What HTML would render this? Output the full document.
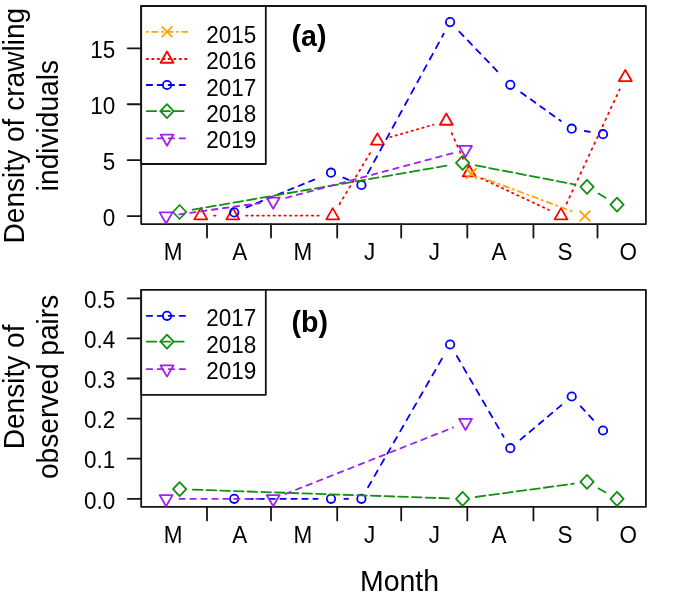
<!DOCTYPE html>
<html><head><meta charset="utf-8"><style>
html,body{margin:0;padding:0;background:#fff;}
svg{display:block;will-change:transform;}
text{font-family:"Liberation Sans",sans-serif;fill:#000;}
</style></head><body>
<svg width="685" height="597" viewBox="0 0 685 597" stroke-linecap="round" stroke-linejoin="round">
<rect width="685" height="597" fill="#fff"/>
<rect x="141.2" y="6" width="504.7" height="218.1" fill="none" stroke="#151515" stroke-width="1.8"/>
<line x1="207" y1="224.1" x2="207" y2="237.6" stroke="#151515" stroke-width="1.8"/>
<line x1="271" y1="224.1" x2="271" y2="237.6" stroke="#151515" stroke-width="1.8"/>
<line x1="337.2" y1="224.1" x2="337.2" y2="237.6" stroke="#151515" stroke-width="1.8"/>
<line x1="401.2" y1="224.1" x2="401.2" y2="237.6" stroke="#151515" stroke-width="1.8"/>
<line x1="467.3" y1="224.1" x2="467.3" y2="237.6" stroke="#151515" stroke-width="1.8"/>
<line x1="533.45" y1="224.1" x2="533.45" y2="237.6" stroke="#151515" stroke-width="1.8"/>
<line x1="597.5" y1="224.1" x2="597.5" y2="237.6" stroke="#151515" stroke-width="1.8"/>
<text transform="translate(173.1 259.9) scale(1 1.025)" font-size="22.5" text-anchor="middle">M</text>
<text transform="translate(239.8 259.9) scale(1 1.025)" font-size="22.5" text-anchor="middle">A</text>
<text transform="translate(302.9 259.9) scale(1 1.025)" font-size="22.5" text-anchor="middle">M</text>
<text transform="translate(369.6 259.9) scale(1 1.025)" font-size="22.5" text-anchor="middle">J</text>
<text transform="translate(434.3 259.9) scale(1 1.025)" font-size="22.5" text-anchor="middle">J</text>
<text transform="translate(499.1 259.9) scale(1 1.025)" font-size="22.5" text-anchor="middle">A</text>
<text transform="translate(565.1 259.9) scale(1 1.025)" font-size="22.5" text-anchor="middle">S</text>
<text transform="translate(628.3 259.9) scale(1 1.025)" font-size="22.5" text-anchor="middle">O</text>
<line x1="127.7" y1="216.1" x2="141.2" y2="216.1" stroke="#151515" stroke-width="1.8"/>
<text transform="translate(115.2 225.85) scale(1 1.025)" font-size="22.5" text-anchor="end">0</text>
<line x1="127.7" y1="160.17" x2="141.2" y2="160.17" stroke="#151515" stroke-width="1.8"/>
<text transform="translate(115.2 169.92) scale(1 1.025)" font-size="22.5" text-anchor="end">5</text>
<line x1="127.7" y1="104.23" x2="141.2" y2="104.23" stroke="#151515" stroke-width="1.8"/>
<text transform="translate(115.2 113.98) scale(1 1.025)" font-size="22.5" text-anchor="end">10</text>
<line x1="127.7" y1="48.3" x2="141.2" y2="48.3" stroke="#151515" stroke-width="1.8"/>
<text transform="translate(115.2 58.05) scale(1 1.025)" font-size="22.5" text-anchor="end">15</text>
<line x1="214.1" y1="215.6" x2="219.5" y2="215.6" stroke="#FF0000" stroke-width="1.8" stroke-dasharray="1.37,4.11"/>
<line x1="246.1" y1="215.6" x2="319.4" y2="215.6" stroke="#FF0000" stroke-width="1.8" stroke-dasharray="1.37,4.11"/>
<line x1="339.52" y1="204.18" x2="370.58" y2="152.22" stroke="#FF0000" stroke-width="1.8" stroke-dasharray="1.61,4.82"/>
<line x1="390.18" y1="137.13" x2="433.52" y2="124.67" stroke="#FF0000" stroke-width="1.8" stroke-dasharray="1.39,4.17"/>
<line x1="451.69" y1="133.16" x2="463.81" y2="160.54" stroke="#FF0000" stroke-width="1.8" stroke-dasharray="1.65,4.95"/>
<line x1="481.25" y1="178.33" x2="548.95" y2="209.97" stroke="#FF0000" stroke-width="1.8" stroke-dasharray="1.42,4.25"/>
<line x1="566.61" y1="203.54" x2="619.69" y2="89.36" stroke="#FF0000" stroke-width="1.8" stroke-dasharray="1.64,4.93"/>
<polygon points="200.8,208.14 207.26,219.33 194.34,219.33" fill="none" stroke="#FF0000" stroke-width="1.8"/>
<polygon points="232.8,208.14 239.26,219.33 226.34,219.33" fill="none" stroke="#FF0000" stroke-width="1.8"/>
<polygon points="332.7,208.14 339.16,219.33 326.24,219.33" fill="none" stroke="#FF0000" stroke-width="1.8"/>
<polygon points="377.4,133.34 383.86,144.53 370.94,144.53" fill="none" stroke="#FF0000" stroke-width="1.8"/>
<polygon points="446.3,113.54 452.76,124.73 439.84,124.73" fill="none" stroke="#FF0000" stroke-width="1.8"/>
<polygon points="469.2,165.24 475.66,176.43 462.74,176.43" fill="none" stroke="#FF0000" stroke-width="1.8"/>
<polygon points="561,208.14 567.46,219.33 554.54,219.33" fill="none" stroke="#FF0000" stroke-width="1.8"/>
<polygon points="625.3,69.84 631.76,81.03 618.84,81.03" fill="none" stroke="#FF0000" stroke-width="1.8"/>
<line x1="483.76" y1="178.26" x2="572.44" y2="211.44" stroke="#FFA500" stroke-width="1.8" stroke-dasharray="1.4,4.21,5.61,4.21"/>
<path d="M466.45 168.75L476.15 178.45M466.45 178.45L476.15 168.75" fill="none" stroke="#FFA500" stroke-width="1.8"/>
<path d="M580.05 211.25L589.75 220.95M580.05 220.95L589.75 211.25" fill="none" stroke="#FFA500" stroke-width="1.8"/>
<line x1="246.51" y1="207.35" x2="318.69" y2="177.75" stroke="#0000FF" stroke-width="1.8" stroke-dasharray="5.63,5.63"/>
<line x1="343.33" y1="177.69" x2="349.07" y2="180.01" stroke="#0000FF" stroke-width="1.8" stroke-dasharray="5.63,5.63"/>
<line x1="367.76" y1="173.32" x2="443.74" y2="33.78" stroke="#0000FF" stroke-width="1.8" stroke-dasharray="6.48,6.48"/>
<line x1="459.31" y1="31.69" x2="501.09" y2="75.21" stroke="#0000FF" stroke-width="1.8" stroke-dasharray="6.1,6.1"/>
<line x1="521.12" y1="92.54" x2="560.88" y2="120.96" stroke="#0000FF" stroke-width="1.8" stroke-dasharray="5.86,5.86"/>
<line x1="584.8" y1="131" x2="589.9" y2="131.9" stroke="#0000FF" stroke-width="1.8" stroke-dasharray="5.51,5.51"/>
<circle cx="234.2" cy="212.4" r="4.2" fill="none" stroke="#0000FF" stroke-width="1.8"/>
<circle cx="331" cy="172.7" r="4.2" fill="none" stroke="#0000FF" stroke-width="1.8"/>
<circle cx="361.4" cy="185" r="4.2" fill="none" stroke="#0000FF" stroke-width="1.8"/>
<circle cx="450.1" cy="22.1" r="4.2" fill="none" stroke="#0000FF" stroke-width="1.8"/>
<circle cx="510.3" cy="84.8" r="4.2" fill="none" stroke="#0000FF" stroke-width="1.8"/>
<circle cx="571.7" cy="128.7" r="4.2" fill="none" stroke="#0000FF" stroke-width="1.8"/>
<circle cx="603" cy="134.2" r="4.2" fill="none" stroke="#0000FF" stroke-width="1.8"/>
<line x1="192.7" y1="209.73" x2="449.5" y2="165.17" stroke="#119011" stroke-width="1.8" stroke-dasharray="9.64,4.13"/>
<line x1="475.66" y1="165.41" x2="573.94" y2="184.29" stroke="#119011" stroke-width="1.8" stroke-dasharray="9.65,4.14"/>
<line x1="598.44" y1="193.59" x2="605.56" y2="197.81" stroke="#119011" stroke-width="1.8" stroke-dasharray="10.09,4.32"/>
<polygon points="173,212 179.6,205 186.2,212 179.6,219" fill="none" stroke="#119011" stroke-width="1.8"/>
<polygon points="456,162.9 462.6,155.9 469.2,162.9 462.6,169.9" fill="none" stroke="#119011" stroke-width="1.8"/>
<polygon points="580.4,186.8 587,179.8 593.6,186.8 587,193.8" fill="none" stroke="#119011" stroke-width="1.8"/>
<polygon points="610.4,204.6 617,197.6 623.6,204.6 617,211.6" fill="none" stroke="#119011" stroke-width="1.8"/>
<line x1="179.27" y1="214.28" x2="260.03" y2="203.12" stroke="#A020F0" stroke-width="1.8" stroke-dasharray="5.5,5.5"/>
<line x1="286.05" y1="197.85" x2="452.65" y2="153.15" stroke="#A020F0" stroke-width="1.8" stroke-dasharray="5.55,5.55"/>
<polygon points="166.1,223.56 172.56,212.37 159.64,212.37" fill="none" stroke="#A020F0" stroke-width="1.8"/>
<polygon points="273.2,208.76 279.66,197.57 266.74,197.57" fill="none" stroke="#A020F0" stroke-width="1.8"/>
<polygon points="465.5,157.16 471.96,145.97 459.04,145.97" fill="none" stroke="#A020F0" stroke-width="1.8"/>
<rect x="141.2" y="6" width="124.6" height="158" fill="#fff" stroke="#151515" stroke-width="1.8"/>
<line x1="146.7" y1="31.8" x2="187.3" y2="31.8" stroke="#FFA500" stroke-width="1.8" stroke-dasharray="1.37,4.11,5.48,4.11"/>
<path d="M162.15 26.95L171.85 36.65M162.15 36.65L171.85 26.95" fill="none" stroke="#FFA500" stroke-width="1.8"/>
<text transform="translate(206.3 42.8) scale(1 1.025)" font-size="22.5">2015</text>
<line x1="146.7" y1="59" x2="187.3" y2="59" stroke="#FF0000" stroke-width="1.8" stroke-dasharray="1.37,4.11"/>
<polygon points="167,51.54 173.46,62.73 160.54,62.73" fill="none" stroke="#FF0000" stroke-width="1.8"/>
<text transform="translate(206.3 68.9) scale(1 1.025)" font-size="22.5">2016</text>
<line x1="146.7" y1="85" x2="187.3" y2="85" stroke="#0000FF" stroke-width="1.8" stroke-dasharray="5.48,5.48"/>
<circle cx="167" cy="85" r="4.2" fill="none" stroke="#0000FF" stroke-width="1.8"/>
<text transform="translate(206.3 96.3) scale(1 1.025)" font-size="22.5">2017</text>
<line x1="146.7" y1="111.1" x2="187.3" y2="111.1" stroke="#119011" stroke-width="1.8" stroke-dasharray="9.59,4.11"/>
<polygon points="160.4,111.1 167,104.1 173.6,111.1 167,118.1" fill="none" stroke="#119011" stroke-width="1.8"/>
<text transform="translate(206.3 122) scale(1 1.025)" font-size="22.5">2018</text>
<line x1="146.7" y1="138.3" x2="187.3" y2="138.3" stroke="#A020F0" stroke-width="1.8" stroke-dasharray="5.48,5.48"/>
<polygon points="167,145.76 173.46,134.57 160.54,134.57" fill="none" stroke="#A020F0" stroke-width="1.8"/>
<text transform="translate(206.3 147.8) scale(1 1.025)" font-size="22.5">2019</text>
<text transform="translate(291.6 46.1)" font-size="28.6" font-weight="bold">(a)</text>
<text transform="translate(24.2 125.6) rotate(-90) scale(1 1.025)" font-size="28.1" text-anchor="middle">Density of crawling</text>
<text transform="translate(58 125.6) rotate(-90) scale(1 1.025)" font-size="28.1" text-anchor="middle">individuals</text>
<rect x="141.2" y="289.9" width="504.7" height="217" fill="none" stroke="#151515" stroke-width="1.8"/>
<line x1="207" y1="506.9" x2="207" y2="520.4" stroke="#151515" stroke-width="1.8"/>
<line x1="271" y1="506.9" x2="271" y2="520.4" stroke="#151515" stroke-width="1.8"/>
<line x1="337.2" y1="506.9" x2="337.2" y2="520.4" stroke="#151515" stroke-width="1.8"/>
<line x1="401.2" y1="506.9" x2="401.2" y2="520.4" stroke="#151515" stroke-width="1.8"/>
<line x1="467.3" y1="506.9" x2="467.3" y2="520.4" stroke="#151515" stroke-width="1.8"/>
<line x1="533.45" y1="506.9" x2="533.45" y2="520.4" stroke="#151515" stroke-width="1.8"/>
<line x1="597.5" y1="506.9" x2="597.5" y2="520.4" stroke="#151515" stroke-width="1.8"/>
<text transform="translate(173.1 543) scale(1 1.025)" font-size="22.5" text-anchor="middle">M</text>
<text transform="translate(239.8 543) scale(1 1.025)" font-size="22.5" text-anchor="middle">A</text>
<text transform="translate(302.9 543) scale(1 1.025)" font-size="22.5" text-anchor="middle">M</text>
<text transform="translate(369.6 543) scale(1 1.025)" font-size="22.5" text-anchor="middle">J</text>
<text transform="translate(434.3 543) scale(1 1.025)" font-size="22.5" text-anchor="middle">J</text>
<text transform="translate(499.1 543) scale(1 1.025)" font-size="22.5" text-anchor="middle">A</text>
<text transform="translate(565.1 543) scale(1 1.025)" font-size="22.5" text-anchor="middle">S</text>
<text transform="translate(628.3 543) scale(1 1.025)" font-size="22.5" text-anchor="middle">O</text>
<line x1="127.7" y1="498.8" x2="141.2" y2="498.8" stroke="#151515" stroke-width="1.8"/>
<text transform="translate(115.2 508.55) scale(1 1.025)" font-size="22.5" text-anchor="end">0.0</text>
<line x1="127.7" y1="458.7" x2="141.2" y2="458.7" stroke="#151515" stroke-width="1.8"/>
<text transform="translate(115.2 468.45) scale(1 1.025)" font-size="22.5" text-anchor="end">0.1</text>
<line x1="127.7" y1="418.6" x2="141.2" y2="418.6" stroke="#151515" stroke-width="1.8"/>
<text transform="translate(115.2 428.35) scale(1 1.025)" font-size="22.5" text-anchor="end">0.2</text>
<line x1="127.7" y1="378.5" x2="141.2" y2="378.5" stroke="#151515" stroke-width="1.8"/>
<text transform="translate(115.2 388.25) scale(1 1.025)" font-size="22.5" text-anchor="end">0.3</text>
<line x1="127.7" y1="338.4" x2="141.2" y2="338.4" stroke="#151515" stroke-width="1.8"/>
<text transform="translate(115.2 348.15) scale(1 1.025)" font-size="22.5" text-anchor="end">0.4</text>
<line x1="127.7" y1="298.3" x2="141.2" y2="298.3" stroke="#151515" stroke-width="1.8"/>
<text transform="translate(115.2 308.05) scale(1 1.025)" font-size="22.5" text-anchor="end">0.5</text>
<line x1="247.5" y1="498.8" x2="317.7" y2="498.8" stroke="#0000FF" stroke-width="1.8" stroke-dasharray="5.48,5.48"/>
<line x1="344.3" y1="498.8" x2="348.1" y2="498.8" stroke="#0000FF" stroke-width="1.8" stroke-dasharray="5.48,5.48"/>
<line x1="368.03" y1="487.27" x2="443.47" y2="356.03" stroke="#0000FF" stroke-width="1.8" stroke-dasharray="6.45,6.45"/>
<line x1="456.78" y1="356" x2="503.62" y2="436.7" stroke="#0000FF" stroke-width="1.8" stroke-dasharray="6.44,6.44"/>
<line x1="520.47" y1="439.63" x2="561.53" y2="405.07" stroke="#0000FF" stroke-width="1.8" stroke-dasharray="5.96,5.96"/>
<line x1="580.71" y1="406.29" x2="593.99" y2="420.71" stroke="#0000FF" stroke-width="1.8" stroke-dasharray="6.13,6.13"/>
<circle cx="234.2" cy="498.8" r="4.2" fill="none" stroke="#0000FF" stroke-width="1.8"/>
<circle cx="331" cy="498.8" r="4.2" fill="none" stroke="#0000FF" stroke-width="1.8"/>
<circle cx="361.4" cy="498.8" r="4.2" fill="none" stroke="#0000FF" stroke-width="1.8"/>
<circle cx="450.1" cy="344.5" r="4.2" fill="none" stroke="#0000FF" stroke-width="1.8"/>
<circle cx="510.3" cy="448.2" r="4.2" fill="none" stroke="#0000FF" stroke-width="1.8"/>
<circle cx="571.7" cy="396.5" r="4.2" fill="none" stroke="#0000FF" stroke-width="1.8"/>
<circle cx="603" cy="430.5" r="4.2" fill="none" stroke="#0000FF" stroke-width="1.8"/>
<line x1="192.89" y1="489.65" x2="449.31" y2="498.35" stroke="#119011" stroke-width="1.8" stroke-dasharray="9.59,4.11"/>
<line x1="475.78" y1="497.01" x2="573.82" y2="483.69" stroke="#119011" stroke-width="1.8" stroke-dasharray="9.62,4.12"/>
<line x1="598.59" y1="488.43" x2="605.41" y2="492.27" stroke="#119011" stroke-width="1.8" stroke-dasharray="10.05,4.31"/>
<polygon points="173,489.2 179.6,482.2 186.2,489.2 179.6,496.2" fill="none" stroke="#119011" stroke-width="1.8"/>
<polygon points="456,498.8 462.6,491.8 469.2,498.8 462.6,505.8" fill="none" stroke="#119011" stroke-width="1.8"/>
<polygon points="580.4,481.9 587,474.9 593.6,481.9 587,488.9" fill="none" stroke="#119011" stroke-width="1.8"/>
<polygon points="610.4,498.8 617,491.8 623.6,498.8 617,505.8" fill="none" stroke="#119011" stroke-width="1.8"/>
<line x1="179.4" y1="498.8" x2="259.9" y2="498.8" stroke="#A020F0" stroke-width="1.8" stroke-dasharray="5.48,5.48"/>
<line x1="285.56" y1="493.9" x2="453.14" y2="427.5" stroke="#A020F0" stroke-width="1.8" stroke-dasharray="5.62,5.62"/>
<polygon points="166.1,506.26 172.56,495.07 159.64,495.07" fill="none" stroke="#A020F0" stroke-width="1.8"/>
<polygon points="273.2,506.26 279.66,495.07 266.74,495.07" fill="none" stroke="#A020F0" stroke-width="1.8"/>
<polygon points="465.5,430.06 471.96,418.87 459.04,418.87" fill="none" stroke="#A020F0" stroke-width="1.8"/>
<rect x="141.2" y="289.9" width="124.6" height="104.9" fill="#fff" stroke="#151515" stroke-width="1.8"/>
<line x1="146.7" y1="315.8" x2="187.3" y2="315.8" stroke="#0000FF" stroke-width="1.8" stroke-dasharray="5.48,5.48"/>
<circle cx="167" cy="315.8" r="4.2" fill="none" stroke="#0000FF" stroke-width="1.8"/>
<text transform="translate(206.3 325.8) scale(1 1.025)" font-size="22.5">2017</text>
<line x1="146.7" y1="341.7" x2="187.3" y2="341.7" stroke="#119011" stroke-width="1.8" stroke-dasharray="9.59,4.11"/>
<polygon points="160.4,341.7 167,334.7 173.6,341.7 167,348.7" fill="none" stroke="#119011" stroke-width="1.8"/>
<text transform="translate(206.3 352.6) scale(1 1.025)" font-size="22.5">2018</text>
<line x1="146.7" y1="369.2" x2="187.3" y2="369.2" stroke="#A020F0" stroke-width="1.8" stroke-dasharray="5.48,5.48"/>
<polygon points="167,376.66 173.46,365.47 160.54,365.47" fill="none" stroke="#A020F0" stroke-width="1.8"/>
<text transform="translate(206.3 378.7) scale(1 1.025)" font-size="22.5">2019</text>
<text transform="translate(291.6 331.9)" font-size="28.6" font-weight="bold">(b)</text>
<text transform="translate(24.2 386.9) rotate(-90) scale(1 1.025)" font-size="28.1" text-anchor="middle">Density of</text>
<text transform="translate(58 386.9) rotate(-90) scale(1 1.025)" font-size="28.1" text-anchor="middle">observed pairs</text>
<text transform="translate(399.5 590.6) scale(1 1.025)" font-size="28.5" text-anchor="middle">Month</text>
</svg>
</body></html>
